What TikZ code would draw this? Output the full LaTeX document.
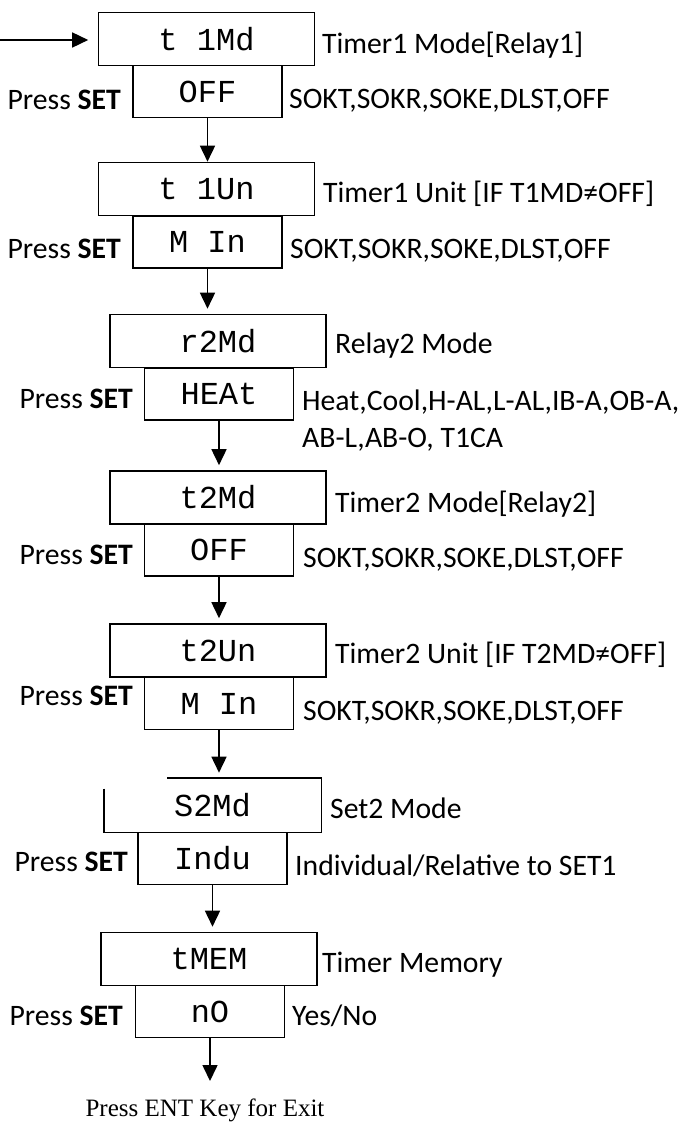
\documentclass[tikz,border=0pt]{standalone}
\usepackage{fontspec}
\setmainfont{Carlito}
\newfontfamily\segfont{Liberation Mono}
\newfontfamily\exitfont{Liberation Serif}
\usetikzlibrary{arrows.meta}

\begin{document}
\begin{tikzpicture}[
  x=1pt, y=-1pt,
  font=\fontsize{29.7}{37}\selectfont,
  modebox/.style={draw, line width=1.6pt, minimum width=216pt, minimum height=53pt, inner sep=0pt,
                  font=\segfont\fontsize{32}{40}\selectfont},
  valbox/.style={modebox, minimum width=149pt, minimum height=52pt},
  press/.style={anchor=base east, inner sep=0pt},
  info/.style={anchor=base west, inner sep=0pt, align=left},
  flow/.style={-{Triangle[length=16pt,width=15pt]}, line width=1.6pt, shorten >=5pt}
]
  \useasboundingbox (0,0) rectangle (691,1124);

  \node[modebox] (m1) at (206.5,39) {t 1Md};
  \node[valbox] (v1) at (207.5,91.5) {OFF};
  \node[info] (m1txt) at (322,53) {Timer1 Mode[Relay1]};
  \node[info] (v1txt) at (289,108) {SOKT,SOKR,SOKE,DLST,OFF};
  \node[press] (p1) at (121,109) {Press \textbf{SET}};

  \node[modebox] (m2) at (206.5,189) {t 1Un};
  \node[valbox] (v2) at (207.5,242) {M In};
  \node[info] (m2txt) at (323,202) {Timer1 Unit [IF T1MD≠OFF]};
  \node[info] (v2txt) at (290,258) {SOKT,SOKR,SOKE,DLST,OFF};
  \node[press] (p2) at (121,258) {Press \textbf{SET}};

  \node[modebox] (m3) at (218,341) {r2Md};
  \node[valbox] (v3) at (219,394) {HEAt};
  \node[info] (m3txt) at (335,353) {Relay2 Mode};
  \node[info] (v3txt) at (302,447) {Heat,Cool,H-AL,L-AL,IB-A,OB-A,\\AB-L,AB-O, T1CA};
  \node[press] (p3) at (133,408) {Press \textbf{SET}};

  \node[modebox] (m4) at (218,497.5) {t2Md};
  \node[valbox] (v4) at (219,550) {OFF};
  \node[info] (m4txt) at (335,512) {Timer2 Mode[Relay2]};
  \node[info] (v4txt) at (303,567) {SOKT,SOKR,SOKE,DLST,OFF};
  \node[press] (p4) at (133,564) {Press \textbf{SET}};

  \node[modebox] (m5) at (218,650.5) {t2Un};
  \node[valbox] (v5) at (219,703.5) {M In};
  \node[info] (m5txt) at (335,663) {Timer2 Unit [IF T2MD≠OFF]};
  \node[info] (v5txt) at (303,720) {SOKT,SOKR,SOKE,DLST,OFF};
  \node[press] (p5) at (133,705) {Press \textbf{SET}};

  \node[modebox, draw=none] (m6) at (212.5,805) {S2Md};
  \draw[line width=1.6pt] ([yshift=-11pt]m6.north west) |- (m6.south east) |- ([xshift=63pt]m6.north west);
  \node[valbox] (v6) at (212.5,858.5) {Indu};
  \node[info] (m6txt) at (330,818) {Set2 Mode};
  \node[info] (v6txt) at (295,875) {Individual/Relative to SET1};
  \node[press] (p6) at (128,871) {Press \textbf{SET}};

  \node[modebox] (m7) at (209,959) {tMEM};
  \node[valbox] (v7) at (210,1011.5) {nO};
  \node[info] (m7txt) at (322,972) {Timer Memory};
  \node[info] (v7txt) at (292,1025) {Yes/No};
  \node[press] (p7) at (123,1025) {Press \textbf{SET}};

  \node[font=\exitfont\fontsize{25}{30}\selectfont, anchor=base, inner sep=0pt] (quit) at (205,1116) {Press ENT Key for Exit};

  \coordinate (entry) at (0,40);
  \coordinate (leave) at (210,1081);
  \draw[flow, shorten >=9.5pt] (entry) -- (entry -| m1.west);
  \draw[flow, shorten >=0pt] (v1.south) -- (v1.south |- m2.north);
  \draw[flow] (v2.south) -- (v2.south |- m3.north);
  \draw[flow] (v3.south) -- (v3.south |- m4.north);
  \draw[flow] (v4.south) -- (v4.south |- m5.north);
  \draw[flow] (v5.south) -- (v5.south |- m6.north);
  \draw[flow] (v6.south) -- (v6.south |- m7.north);
  \draw[flow, shorten >=0pt] (v7.south) -- (leave);
\end{tikzpicture}
\end{document}
